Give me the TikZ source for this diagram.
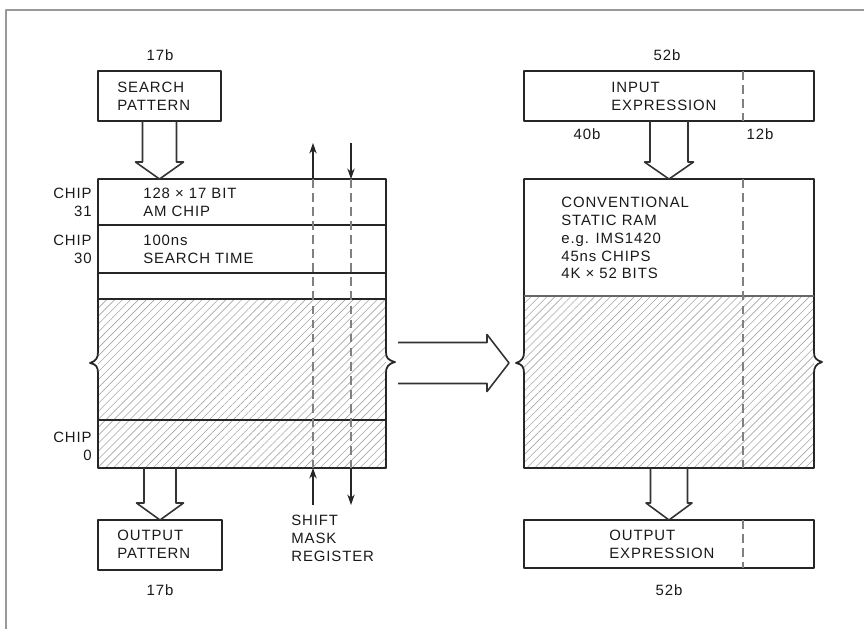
\documentclass[tikz,border=0pt]{standalone}
\usepackage{fontspec}
\setmainfont{Liberation Sans}[LetterSpace=6]
\usetikzlibrary{calc,patterns.meta,arrows.meta}

% 空心粗箭头(向下): 起点, 箭尖, 杆半宽, 箭头半宽
\newcommand{\fatdown}[4]{%
  \draw[fat] let \p1=(#1), \p2=(#2) in
    (\x1-#3,\y1) -- (\x1-#3,\y2+0.34cm) -- (\x1-#4,\y2+0.34cm) -- (\x2,\y2)
    -- (\x1+#4,\y2+0.34cm) -- (\x1+#3,\y2+0.34cm) -- (\x1+#3,\y1);}

\begin{document}
\begin{tikzpicture}[x=0.02cm, y=-0.02cm, line join=round,
    rim/.style={draw=black!85, line width=1pt},
    box/.style={rim, minimum height=1cm, inner sep=0pt, outer sep=0pt},
    area/.style={minimum height=5.78cm, inner sep=0pt, outer sep=0pt},
    fat/.style={draw=black!80, line width=0.9pt},
    txt/.style={inner sep=0pt, align=left, text=black!90, font=\fontsize{8.5}{10.2}\selectfont},
    split/.style={draw=black!50, line width=0.6pt, dash pattern=on 5pt off 3pt},
    hatch/.style={pattern={Lines[angle=45,distance=3.2pt,line width=0.35pt]}, pattern color=black!35},
    sig/.style={draw=black!85, line width=0.8pt, -{Stealth[length=6pt,width=4.2pt]}}]
    \useasboundingbox (0,0) rectangle (864,629);
    \draw[black!40, line width=1pt] (864,10) -- (6,10) -- (6,629); % 外框

    % 左侧: 相联存储芯片
    \node[txt] (wsp) at (160,55) {17b};
    \node[box, minimum width=2.46cm] (sp) at (159.5,96) {};
    \node[txt, anchor=west] (spt) at (117,96) {SEARCH\\PATTERN};
    \node[area, minimum width=5.76cm] (chips) at (242,323.5) {};
    \fill[hatch] (98,299) rectangle (386,468);
    \draw[rim] (98,179) -- (386,179) -- (386,352) .. controls (386,358) and (388,360) .. (395,362)
        .. controls (388,364) and (386,367) .. (386,373) -- (386,468) -- (98,468) -- (98,373)
        .. controls (98,367) and (96,364) .. (90,363) .. controls (96,361) and (98,358) .. (98,352) -- cycle;
    \draw[rim] (98,225) -- (386,225) (98,273) -- (386,273) (98,299) -- (386,299) (98,420) -- (386,420);
    \draw[split] (313,179) -- (313,468) (351,179) -- (351,468);
    \node[txt, anchor=east, align=right] (c31) at (92,202) {CHIP\\31};
    \node[txt, anchor=east, align=right] (c30) at (92,249) {CHIP\\30};
    \node[txt, anchor=east, align=right] (c0) at (92,446) {CHIP\\0};
    \node[txt, anchor=west] (row1) at (143,202) {128 × 17 BIT\\AM CHIP};
    \node[txt, anchor=west] (row2) at (143,249) {100ns\\SEARCH TIME};
    \fatdown{sp.south}{sp.south |- chips.north}{0.34cm}{0.48cm}

    % 屏蔽移位寄存器
    \coordinate (m1t) at (313,143);
    \coordinate (m2t) at (351,143);
    \coordinate (m1b) at (313,505);
    \coordinate (m2b) at (351,505);
    \draw[sig] (chips.north -| m1t) -- (m1t);
    \draw[sig] (m2t) -- (chips.north -| m2t);
    \draw[sig] (m1b) -- (chips.south -| m1b);
    \draw[sig] (chips.south -| m2b) -- (m2b);
    \node[txt, anchor=west] (smr) at (291,538) {SHIFT\\MASK\\REGISTER};

    \node[box, minimum width=2.48cm] (op) at (160,545) {};
    \node[txt, anchor=west] (opt) at (117,544) {OUTPUT\\PATTERN};
    \fatdown{op.north |- chips.south}{op.north}{0.32cm}{0.47cm}
    \node[txt] (wop) at (160,590) {17b};

    % 中间粗箭头
    \coordinate (ha) at (398,363);
    \coordinate (hb) at (509,363);
    \draw[fat] let \p1=(ha), \p2=(hb) in
        (\x1,\y1+0.41cm) -- (\x2-0.44cm,\y1+0.41cm) -- (\x2-0.44cm,\y1+0.57cm) -- (\x2,\y2)
        -- (\x2-0.44cm,\y1-0.57cm) -- (\x2-0.44cm,\y1-0.41cm) -- (\x1,\y1-0.41cm);

    % 右侧: 静态 RAM
    \node[txt] (wie) at (667,55) {52b};
    \node[box, minimum width=5.8cm] (ie) at (669,96) {};
    \draw[split] (743,71) -- (743,121);
    \node[txt, anchor=west] (iet) at (611,96) {INPUT\\EXPRESSION};
    \node[txt] (w40) at (587,134) {40b};
    \node[txt] (w12) at (760,134) {12b};
    \node[area, minimum width=5.8cm] (ram) at (669,323.5) {};
    \fill[hatch] (524,296) rectangle (814,468);
    \draw[rim] (524,179) -- (814,179) -- (814,352) .. controls (814,358) and (816,360) .. (822,362)
        .. controls (816,364) and (814,367) .. (814,373) -- (814,468) -- (524,468) -- (524,373)
        .. controls (524,367) and (522,364) .. (516,363) .. controls (522,361) and (524,358) .. (524,352) -- cycle;
    \draw[black!60, line width=0.6pt] (524,296) -- (814,296);
    \draw[split] (743,179) -- (743,468);
    \node[txt, anchor=west] (ramt) at (561,238) {CONVENTIONAL\\STATIC RAM\\e.g. IMS1420\\45ns CHIPS\\4K × 52 BITS};
    \fatdown{ie.south}{ie.south |- ram.north}{0.38cm}{0.49cm}

    \node[box, minimum width=5.8cm, minimum height=0.96cm] (oe) at (669,544) {};
    \draw[split] (743,520) -- (743,568);
    \node[txt, anchor=west] (oet) at (609,544) {OUTPUT\\EXPRESSION};
    \fatdown{oe.north |- ram.south}{oe.north}{0.37cm}{0.46cm}
    \node[txt] (woe) at (669,590) {52b};
\end{tikzpicture}
\end{document}
